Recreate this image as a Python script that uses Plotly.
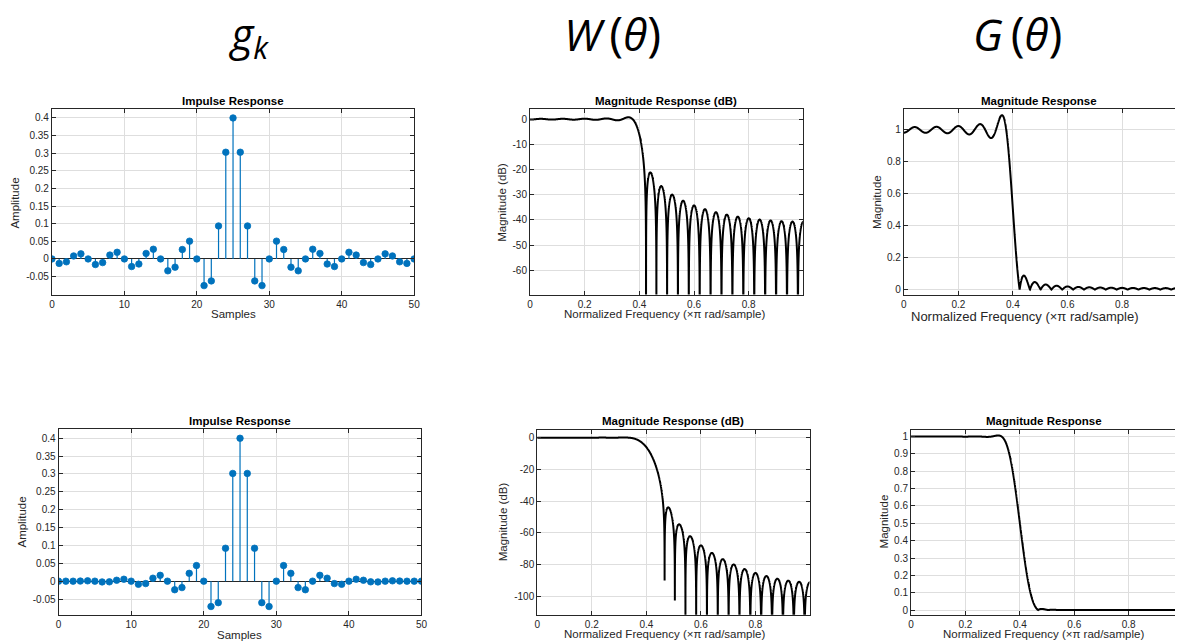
import numpy as np
import plotly.graph_objects as go

# ---------------- data ----------------
samples = list(range(51))

# top row: impulse response g_k (rectangular truncation)
g_rect = [0.0, -0.0126138, -0.0081347, 0.0085044, 0.0144157, 0.0,
          -0.0159332, -0.0103943, 0.0110058, 0.0189207, 0.0,
          -0.0216236, -0.0143921, 0.0155915, 0.0275210, 0.0,
          -0.0336367, -0.0233872, 0.0267283, 0.0504551, 0.0,
          -0.0756827, -0.0623660, 0.0935489, 0.3027307, 0.4,
          0.3027307, 0.0935489, -0.0623660, -0.0756827, 0.0,
          0.0504551, 0.0267283, -0.0233872, -0.0336367, 0.0,
          0.0275210, 0.0155915, -0.0143921, -0.0216236, 0.0,
          0.0189207, 0.0110058, -0.0103943, -0.0159332, 0.0,
          0.0144157, 0.0085044, -0.0081347, -0.0126138, 0.0]

# bottom row: impulse response g_k (tapered)
g_hann = [0.0, -0.0000497, -0.0001278, 0.0002986, 0.0008916, 0.0,
          -0.0021592, -0.0018844, 0.0025543, 0.0054323, 0.0,
          -0.0087859, -0.0067442, 0.0082853, 0.0163389, 0.0,
          -0.0239793, -0.0179594, 0.0218828, 0.0436177, 0.0,
          -0.0710020, -0.0601762, 0.0920794, 0.3015371, 0.4,
          0.3015371, 0.0920794, -0.0601762, -0.0710020, 0.0,
          0.0436177, 0.0218828, -0.0179594, -0.0239793, 0.0,
          0.0163389, 0.0082853, -0.0067442, -0.0087859, 0.0,
          0.0054323, 0.0025543, -0.0018844, -0.0021592, 0.0,
          0.0008916, 0.0002986, -0.0001278, -0.0000497, 0.0]

n_freq = 8192

imp_yticks = [-0.05, 0, 0.05, 0.1, 0.15, 0.2, 0.25, 0.3, 0.35, 0.4]
imp_ytext = ['-0.05', '0', '0.05', '0.1', '0.15', '0.2', '0.25', '0.3', '0.35', '0.4']
imp_xticks = [0, 10, 20, 30, 40, 50]
f_ticks = [0, 0.2, 0.4, 0.6, 0.8]
f_text = ['0', '0.2', '0.4', '0.6', '0.8']
db_top_ticks = [-60, -50, -40, -30, -20, -10, 0]
db_top_text = ['-60', '-50', '-40', '-30', '-20', '-10', '0']
db_bot_ticks = [-100, -80, -60, -40, -20, 0]
db_bot_text = ['-100', '-80', '-60', '-40', '-20', '0']
lin_top_ticks = [0, 0.2, 0.4, 0.6, 0.8, 1]
lin_top_text = ['0', '0.2', '0.4', '0.6', '0.8', '1']
lin_bot_ticks = [0, 0.1, 0.2, 0.3, 0.4, 0.5, 0.6, 0.7, 0.8, 0.9, 1]
lin_bot_text = ['0', '0.1', '0.2', '0.3', '0.4', '0.5', '0.6', '0.7', '0.8', '0.9', '1']

# ---------------- derived frequency responses ----------------
def response(h):
    H = np.fft.fft(np.asarray(h, dtype=float), 2 * n_freq)[:n_freq]
    mag = np.abs(H)
    db = 20 * np.log10(np.maximum(mag, 1e-14))
    return mag, db

freq = np.arange(n_freq) / n_freq
mag_top, db_top = response(g_rect)
mag_bot, db_bot = response(g_hann)

# ---------------- layout helpers ----------------
W, H = 1181, 641
def dx(a, b):
    return [a / W, min(b / W, 1.0)]
def dy(top, bottom):
    return [1 - bottom / H, 1 - top / H]

BLUE = '#0072BD'
AX = '#262626'
GRID = '#dedede'
FONT = 'Liberation Sans, Arial, Helvetica, sans-serif'

fig = go.Figure()

def stem(h, xa, ya):
    xs, ys = [], []
    for n, v in zip(samples, h):
        xs += [n, n, None]
        ys += [0, v, None]
    fig.add_trace(go.Scatter(x=xs, y=ys, mode='lines', xaxis=xa, yaxis=ya,
                             line=dict(color=BLUE, width=1.2), hoverinfo='skip',
                             showlegend=False))
    fig.add_trace(go.Scatter(x=samples, y=h, mode='markers', xaxis=xa, yaxis=ya,
                             marker=dict(color=BLUE, size=6.5,
                                         line=dict(color=BLUE, width=0.8)),
                             showlegend=False))

def curve(y, xa, ya):
    fig.add_trace(go.Scatter(x=freq, y=y, mode='lines', xaxis=xa, yaxis=ya,
                             line=dict(color='black', width=2, simplify=False),
                             showlegend=False))

stem(g_rect, 'x', 'y')
curve(db_top, 'x2', 'y2')
curve(mag_top, 'x3', 'y3')
stem(g_hann, 'x4', 'y4')
curve(db_bot, 'x5', 'y5')
curve(mag_bot, 'x6', 'y6')

def axis(domain, rng, tickvals, ticktext=None, anchor=None, mirror='ticks', zeroline=False):
    d = dict(domain=domain, range=rng, tickvals=tickvals, showline=True,
             linecolor=AX, linewidth=1, mirror=mirror, ticks='inside', ticklen=4,
             tickcolor=AX, tickwidth=1, showgrid=True, gridcolor=GRID, gridwidth=1,
             zeroline=zeroline, zerolinecolor=AX, zerolinewidth=1,
             tickfont=dict(family=FONT, size=10, color=AX), anchor=anchor,
             fixedrange=True)
    if ticktext is not None:
        d['ticktext'] = ticktext
    return d

panels = {
    1: ((49.3, 414.3), (109.3, 295.0)),
    2: ((531.0, 806.0), (109.3, 295.0)),
    3: ((907.7, 1181.0), (109.3, 295.0)),
    4: ((56.0, 421.7), (430.0, 615.7)),
    5: ((538.3, 812.7), (431.0, 615.7)),
    6: ((915.0, 1181.0), (431.0, 615.7)),
}

lay = {}
lay['xaxis'] = axis(dx(*panels[1][0]), [0, 50], imp_xticks, anchor='y')
lay['yaxis'] = axis(dy(*panels[1][1]), [-0.101, 0.425], imp_yticks, imp_ytext, anchor='x', zeroline=True)
lay['xaxis2'] = axis(dx(*panels[2][0]), [0, 0.998], f_ticks, f_text, anchor='y2')
lay['yaxis2'] = axis(dy(*panels[2][1]), [-69.6, 4.0], db_top_ticks, db_top_text, anchor='x2')
lay['xaxis3'] = axis(dx(*panels[3][0]), [0, 0.994], f_ticks, f_text, anchor='y3')
lay['yaxis3'] = axis(dy(*panels[3][1]), [-0.031, 1.13], lin_top_ticks, lin_top_text, anchor='x3', mirror=False)
lay['xaxis4'] = axis(dx(*panels[4][0]), [0, 50], imp_xticks, anchor='y4')
lay['yaxis4'] = axis(dy(*panels[4][1]), [-0.094, 0.425], imp_yticks, imp_ytext, anchor='x4', zeroline=True)
lay['xaxis5'] = axis(dx(*panels[5][0]), [0, 0.998], f_ticks, f_text, anchor='y5')
lay['yaxis5'] = axis(dy(*panels[5][1]), [-111.6, 4.6], db_bot_ticks, db_bot_text, anchor='x5')
lay['xaxis6'] = axis(dx(*panels[6][0]), [0, 0.970], f_ticks, f_text, anchor='y6')
lay['yaxis6'] = axis(dy(*panels[6][1]), [-0.027, 1.036], lin_bot_ticks, lin_bot_text, anchor='x6', mirror=False)

annotations = []
def text(s, xpx, ypx, size=11.5, bold=False, angle=0, color=AX, family=FONT):
    if bold:
        s = '<b>' + s + '</b>'
    annotations.append(dict(text=s, x=xpx / W, y=1 - ypx / H, xref='paper', yref='paper',
                            xanchor='center', yanchor='middle', showarrow=False,
                            textangle=angle,
                            font=dict(family=family, size=size, color=color)))

# big column headings
BIG = 'Open Sans, Lato, sans-serif'
def big(sym):
    return ('<i>' + sym + '</i>'
            + '<span style="font-size:47px">\u2009(</span>'
            + '<i>θ</i>'
            + '<span style="font-size:47px">)</span>')
text('<i>g<sub>k</sub></i>', 248, 36, size=43, color='black', family=BIG)
text(big('W'), 614, 33, size=44, color='black', family=BIG)
text(big('G'), 1022, 33, size=44, color='black', family=BIG)

# subplot titles
text('Impulse Response', 231.8, 101.5, bold=True, color='black')
text('Magnitude Response (dB)', 668.5, 101.5, bold=True, color='black')
text('Magnitude Response', 1044, 101.5, bold=True, color='black')
text('Impulse Response', 238.8, 422, bold=True, color='black')
text('Magnitude Response (dB)', 675.5, 422, bold=True, color='black')
text('Magnitude Response', 1049, 422, bold=True, color='black')

# axis labels
FREQ_LABEL = 'Normalized Frequency (×π rad/sample)'
text('Samples', 231.8, 314.5)
text(FREQ_LABEL, 667, 314.5)
text(FREQ_LABEL, 1030, 316.5, size=13)
text('Samples', 238.8, 635.5)
text(FREQ_LABEL, 667, 634.5)
text(FREQ_LABEL, 1048, 634.5)
text('Amplitude', 12, 203, angle=-90)
text('Magnitude (dB)', 503, 203, angle=-90)
text('Magnitude', 880, 202, angle=-90)
text('Amplitude', 19.5, 523, angle=-90)
text('Magnitude (dB)', 504, 523, angle=-90)
text('Magnitude', 888, 522, angle=-90)

fig.update_layout(width=W, height=H, margin=dict(l=0, r=0, t=0, b=0),
                  paper_bgcolor='white', plot_bgcolor='white',
                  showlegend=False, annotations=annotations, **lay)

fig.write_html('out.html', config={'displayModeBar': False},
               post_script="document.body.style.margin='0px';document.body.style.overflow='hidden';")
